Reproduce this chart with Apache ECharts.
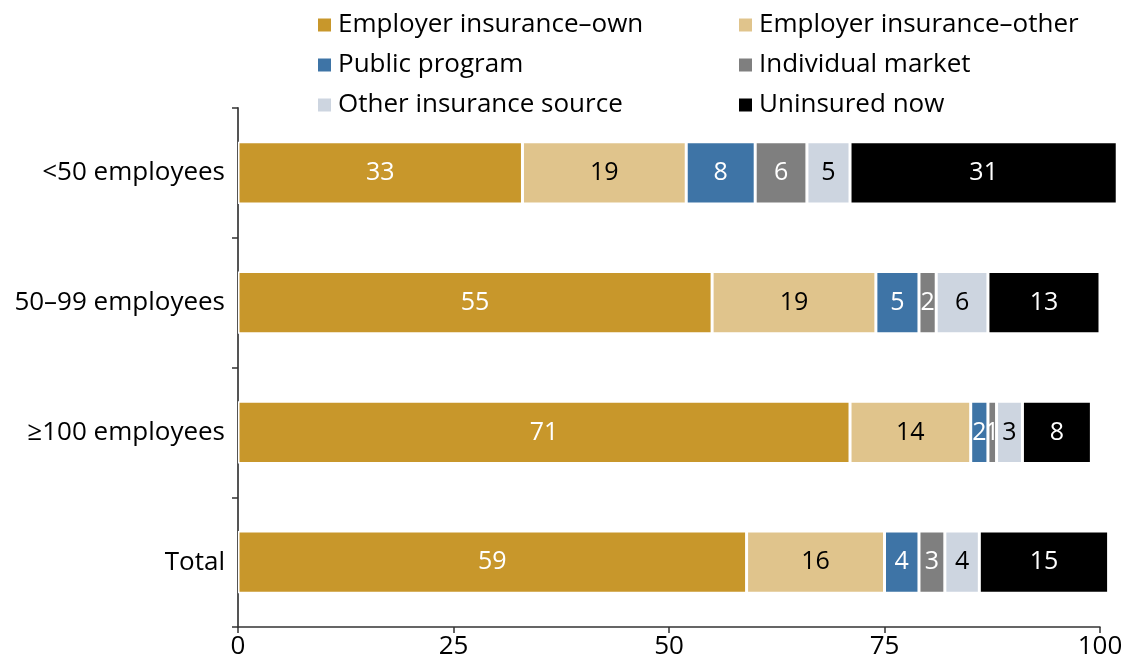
<!DOCTYPE html>
<html>
<head>
<meta charset="utf-8">
<script src="https://cdn.jsdelivr.net/npm/echarts@6/dist/echarts.min.js"></script>
<style>
  html, body { margin: 0; padding: 0; background: #fff; }
  #chart { width: 1121px; height: 666px; }
</style>
</head>
<body>
<div id="chart"></div>
<script>
// categories, top to bottom
const categories = ['<50 employees', '50\u201399 employees', '\u2265100 employees', 'Total']
const seriesNames = [
  'Employer insurance\u2013own',
  'Employer insurance\u2013other',
  'Public program',
  'Individual market',
  'Other insurance source',
  'Uninsured now'
]
const employerOwn = [33, 55, 71, 59]
const employerOther = [19, 19, 14, 16]
const publicProgram = [8, 5, 2, 4]
const individualMarket = [6, 2, 1, 3]
const otherSource = [5, 6, 3, 4]
const uninsured = [31, 13, 8, 15]
const xTicks = [0, 25, 50, 75, 100]

const values = [employerOwn, employerOther, publicProgram, individualMarket, otherSource, uninsured]
const colors = ['#C8972B', '#E0C48C', '#3E74A6', '#7F7F7F', '#CDD5E0', '#000000']
const labelColors = ['#fff', '#000', '#fff', '#fff', '#000', '#fff']
const font = '"Open Sans", Lato, sans-serif'

let chart = echarts.init(document.getElementById('chart'))

let series = seriesNames.map(function (name, i) {
  return {
    name: name,
    type: 'bar',
    stack: 'all',
    barWidth: '48%',
    clip: false,
    data: values[i],
    itemStyle: { color: colors[i], borderColor: '#fff', borderWidth: 1.5 },
    label: {
      show: true,
      position: 'inside',
      color: labelColors[i],
      fontSize: 25,
      fontFamily: font
    }
  }
})

function legendCol (left, names) {
  return {
    orient: 'vertical',
    left: left,
    top: 6,
    itemWidth: 15,
    itemHeight: 15,
    itemGap: 12,
    icon: 'rect',
    data: names,
    selectedMode: false,
    textStyle: { fontSize: 26, fontFamily: font, color: '#000', padding: [0, 0, 0, 1], lineHeight: 28 }
  }
}

chart.setOption({
  animation: false,
  legend: [
    legendCol(311, [seriesNames[0], seriesNames[2], seriesNames[4]]),
    legendCol(732, [seriesNames[1], seriesNames[3], seriesNames[5]])
  ],
  grid: { left: 238, right: 21, top: 108, bottom: 39, containLabel: false, outerBoundsMode: 'none' },
  xAxis: {
    type: 'value',
    min: xTicks[0],
    max: xTicks[xTicks.length - 1],
    interval: 25,
    splitLine: { show: false },
    axisLine: { show: true, lineStyle: { color: '#333', width: 1.5 } },
    axisTick: { show: true, length: 6, lineStyle: { color: '#333', width: 1.5 } },
    axisLabel: { fontSize: 26, fontFamily: font, color: '#000', margin: 7 }
  },
  yAxis: {
    type: 'category',
    inverse: true,
    data: categories,
    axisLine: { show: true, lineStyle: { color: '#555', width: 2 } },
    axisTick: { show: true, length: 6, interval: 0, lineStyle: { color: '#333', width: 1.5 } },
    axisLabel: { fontSize: 26, fontFamily: font, color: '#000', margin: 13 }
  },
  series: series
})
</script>
</body>
</html>
